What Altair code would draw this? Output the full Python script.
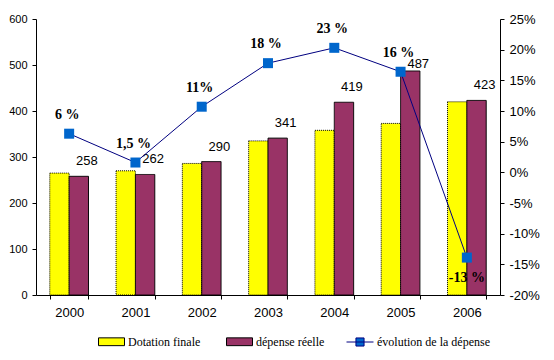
import altair as alt
import pandas as pd

years = ["2000", "2001", "2002", "2003", "2004", "2005", "2006"]
series_names = ["Dotation finale", "dépense réelle"]
dotation = [265, 270, 286, 335, 358, 373, 420]
depense = [258, 262, 290, 341, 419, 487, 423]
line_name = "évolution de la dépense"
evolution = [6.3, 1.6, 10.7, 17.8, 20.3, 16.4, -13.9]
evolution_labels = ["6 %", "1,5 %", "11%", "18 %", "23 %", "16 %", "-13 %"]

bars_df = pd.DataFrame({
    "year": years * 2,
    "series": [series_names[0]] * len(years) + [series_names[1]] * len(years),
    "value": dotation + depense,
})
dep_df = pd.DataFrame({"year": years, "series": series_names[1], "value": depense})
line_df = pd.DataFrame({"year": years, "name": line_name, "evo": evolution, "label": evolution_labels})

SANS = "Liberation Sans"
SERIF = "Liberation Serif"

x_enc = alt.X(
    "year:N",
    sort=years,
    scale=alt.Scale(paddingInner=0.416, paddingOuter=0.208),
    axis=alt.Axis(title=None, labelAngle=0, tickBand="extent", tickSize=4,
                  labelPadding=7, labelFontSize=13, labelFont=SANS),
)
xoff_enc = alt.XOffset("series:N", scale=alt.Scale(domain=series_names, paddingInner=0, paddingOuter=0))

y_left = alt.Y("value:Q", scale=alt.Scale(domain=[0, 600]),
               axis=alt.Axis(title=None, values=[0, 100, 200, 300, 400, 500, 600], tickSize=4,
                             labelPadding=5, labelFontSize=11, labelFont=SANS, grid=False))
y_right = alt.Y("evo:Q", scale=alt.Scale(domain=[-20, 25]),
                axis=alt.Axis(title=None, orient="right", values=list(range(-20, 30, 5)), tickSize=4,
                              labelPadding=5, labelFontSize=13, labelFont=SANS, grid=False,
                              labelExpr="datum.value + '%'"))

bars = alt.Chart(bars_df).mark_bar(stroke="black", strokeWidth=1).encode(
    x=x_enc,
    xOffset=xoff_enc,
    y=y_left,
    fill=alt.Fill("series:N", scale=alt.Scale(domain=series_names, range=["#FFFF00", "#993366"]),
                  legend=alt.Legend(title=None, orient="none", legendX=62, legendY=309,
                                    direction="horizontal",
                                    symbolType="M-1,-0.3H1V0.3H-1Z", symbolSize=676,
                                    symbolStrokeColor="black", symbolStrokeWidth=1,
                                    labelFont=SERIF, labelFontSize=12, labelOffset=3,
                                    columnPadding=23, padding=0)),
    strokeDash=alt.condition("datum.series == 'Dotation finale'", alt.value([1, 1]), alt.value([1, 0])),
)

bar_labels = alt.Chart(dep_df).transform_filter("datum.value <= 450").mark_text(
    font=SANS, fontSize=13, dx=8, dy=-15, color="black").encode(
    x=x_enc, xOffset=xoff_enc, y=y_left, text="value:Q"
)
bar_labels_hi = alt.Chart(dep_df).transform_filter("datum.value > 450").mark_text(
    font=SANS, fontSize=13, dx=8, dy=-7, color="black").encode(
    x=x_enc, xOffset=xoff_enc, y=y_left, text="value:Q"
)

line = alt.Chart(line_df).mark_line(color="#000080", strokeWidth=1).encode(x=x_enc, y=y_right)
points = alt.Chart(line_df).mark_point(shape="square", filled=True, size=100, opacity=1).encode(
    x=x_enc, y=y_right,
    fill=alt.Fill("name:N", scale=alt.Scale(domain=[line_name], range=["#0066CC"]),
                  legend=alt.Legend(title=None, orient="none", legendX=310, legendY=309,
                                    symbolType="M-1,0H1M-0.3,-0.3H0.3V0.3H-0.3Z", symbolSize=729,
                                    symbolStrokeColor="#000080", symbolStrokeWidth=1,
                                    labelFont=SERIF, labelFontSize=12, labelOffset=3, padding=0)),
)
lab_pos = alt.Chart(line_df).transform_filter("datum.evo >= 0").mark_text(
    font=SERIF, fontSize=14, fontWeight="bold", dx=-2, dy=-19, color="black").encode(
    x=x_enc, y=y_right, text="label:N")
lab_neg = alt.Chart(line_df).transform_filter("datum.evo < 0").mark_text(
    font=SERIF, fontSize=14, fontWeight="bold", dy=20, color="black").encode(
    x=x_enc, y=y_right, text="label:N")

left = alt.layer(bars, bar_labels, bar_labels_hi)
right = alt.layer(line, points, lab_pos, lab_neg)

chart = alt.layer(left, right).resolve_scale(y="independent", fill="independent").properties(
    width=464, height=276,
    padding={"left": 28, "top": 11, "right": 46, "bottom": 57},
    autosize="none",
    background="white",
).configure_view(stroke=None).configure_axis(
    domainColor="black", tickColor="black", labelColor="black"
)

chart.save("out.html", embed_options={"renderer": "svg", "actions": False})
